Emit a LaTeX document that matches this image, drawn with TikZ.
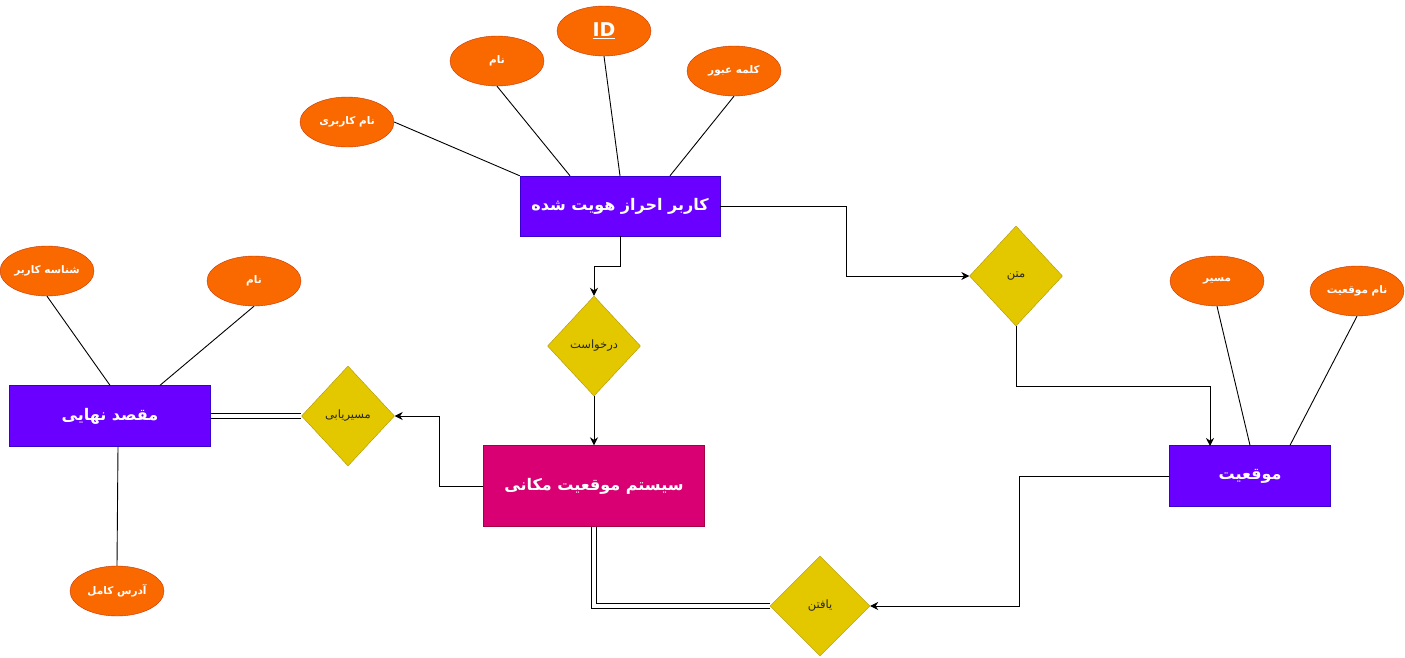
\documentclass[tikz,border=0pt]{standalone}
\usepackage{fontspec}
\setmainfont{DejaVu Sans}
\newfontfamily\arabicfont[Script=Arabic]{DejaVu Sans}
\TeXXeTstate=1
\usetikzlibrary{shapes.geometric,arrows.meta}

\definecolor{entfill}{HTML}{6A00FF}
\definecolor{entline}{HTML}{3700CC}
\definecolor{attfill}{HTML}{FA6800}
\definecolor{attline}{HTML}{C73500}
\definecolor{relfill}{HTML}{E3C800}
\definecolor{relline}{HTML}{B09500}
\definecolor{sysfill}{HTML}{D80073}
\definecolor{sysline}{HTML}{A50040}

\newcommand{\fa}[1]{\arabicfont\beginR #1\endR}

\tikzset{
  entity/.style={draw=entline, fill=entfill, text=white, font=\bfseries\fontsize{16}{18}\selectfont, inner sep=0pt},
  attrib/.style={ellipse, draw=attline, fill=attfill, text=white, font=\bfseries\fontsize{10.5}{12}\selectfont,
    minimum width=94pt, minimum height=50pt, inner sep=0pt},
  relation/.style={diamond, draw=relline, fill=relfill, text=black!85, font=\fontsize{11.5}{13}\selectfont,
    minimum width=93pt, minimum height=100pt, inner sep=0pt},
  link/.style={draw=black, line width=0.9pt},
  twin/.style={draw=black, double=white, double distance=3.5pt, line width=0.9pt},
}

\begin{document}
\begin{tikzpicture}[x=1pt, y=-1pt, >={Stealth[length=8pt, width=8pt]}]
  \useasboundingbox (0,0) rectangle (1405,657);

  % Entities
  \node[entity, minimum width=200pt, minimum height=60pt] (user) at (620,206) {\fa{کاربر احراز هویت شده}};
  \node[entity, draw=sysline, fill=sysfill, minimum width=221pt, minimum height=81pt] (sys) at (594,486) {\fa{سیستم موقعیت مکانی}};
  \node[entity, minimum width=201pt, minimum height=61pt] (dest) at (110,416) {\fa{مقصد نهایی}};
  \node[entity, minimum width=161pt, minimum height=61pt] (loc) at (1250,476) {\fa{موقعیت}};

  % Relations
  \node[relation] (req) at (594,346) {\fa{درخواست}};
  \node[relation] (route) at (348,416) {\fa{مسیریابی}};
  \node[relation] (text) at (1016,276) {\fa{متن}};
  \node[relation, minimum width=100pt] (find) at (820,606) {\fa{یافتن}};

  % Attributes of the user
  \node[attrib] (uname) at (347,122) {\fa{نام کاربری}};
  \node[attrib] (name) at (497,61) {\fa{نام}};
  \node[attrib, font=\bfseries\fontsize{19}{21}\selectfont] (id) at (604,31) {\underline{ID}};
  \node[attrib] (pass) at (734,71) {\fa{کلمه عبور}};
  \draw[link] (uname.east) -- (user.north west);
  \draw[link] (name.south) -- ([xshift=-50pt]user.north);
  \draw[link] (id.south) -- (user.north);
  \draw[link] (pass.south) -- ([xshift=50pt]user.north);

  % Attributes of the destination
  \node[attrib] (uid) at (47,271) {\fa{شناسه کاربر}};
  \node[attrib] (dname) at (254,281) {\fa{نام}};
  \node[attrib] (addr) at (117,591) {\fa{آدرس کامل}};
  \draw[link] (uid.south) -- (dest.north);
  \draw[link] (dname.south) -- ([xshift=50pt]dest.north);
  \draw[link] ([xshift=8pt]dest.south) -- (addr.north);

  % Attributes of the location
  \node[attrib] (path) at (1217,281) {\fa{مسیر}};
  \node[attrib] (lname) at (1357,291) {\fa{نام موقعیت}};
  \draw[link] (path.south) -- (loc.north);
  \draw[link] (lname.south) -- ([xshift=40pt]loc.north);

  % Connectors
  \coordinate (locin) at (1210,446);
  \draw[link, ->] (user.south) -- ++(0,30) -| (req.north);
  \draw[link, ->] (req.south) -- (sys.north);
  \draw[link, ->] (user.east) -- ++(126,0) |- (text.west);
  \draw[link, ->] (text.south) -- ++(0,60) -| (locin);
  \draw[link, ->] (sys.west) -- ++(-44,0) |- (route.east);
  \draw[twin] (route.west) -- (dest.east);
  \draw[twin] (sys.south) |- (find.west);
  \draw[link, ->] (loc.west) -- ++(-150,0) |- (find.east);
\end{tikzpicture}
\end{document}
